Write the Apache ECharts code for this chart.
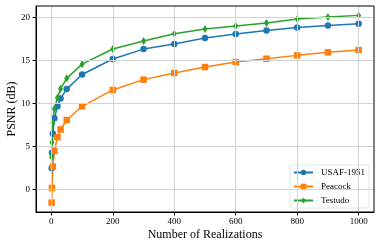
<!DOCTYPE html>
<html>
<head>
<meta charset="utf-8">
<script src="https://cdn.jsdelivr.net/npm/echarts@6/dist/echarts.min.js"></script>
<style>html,body{margin:0;padding:0;background:#fff}#c{width:381px;height:249px}</style>
</head>
<body>
<div id="c"></div>
<script>
const realizations = [1, 2, 5, 10, 20, 30, 50, 100, 200, 300, 400, 500, 600, 700, 800, 900, 1000];
const usaf = [2.5, 4.3, 6.5, 8.3, 9.7, 10.6, 11.7, 13.4, 15.2, 16.35, 16.95, 17.64, 18.1, 18.5, 18.87, 19.1, 19.3];
const peacock = [-1.5, 0.2, 2.7, 4.5, 6.1, 7.0, 8.1, 9.7, 11.6, 12.8, 13.57, 14.26, 14.84, 15.23, 15.62, 15.97, 16.24];
const testudo = [3.8, 5.5, 7.75, 9.4, 10.7, 11.75, 12.95, 14.6, 16.36, 17.28, 18.14, 18.69, 19.03, 19.38, 19.84, 20.07, 20.27];
const xTicks = [0, 200, 400, 600, 800, 1000];
const yTicks = [0, 5, 10, 15, 20];

const FONT = '"Liberation Serif", "DejaVu Serif", serif';
const pairs = arr => realizations.map((x, i) => [x, arr[i]]);

const chart = echarts.init(document.getElementById('c'), null, {renderer: 'canvas'});
const gridLineStyle = {color: '#d3d3d3', width: 1, type: 'solid'};
chart.setOption({
  animation: false,
  backgroundColor: '#fff',
  textStyle: {fontFamily: FONT},
  grid: {left: 36, right: 7, top: 6, bottom: 37, containLabel: false, outerBoundsMode: 'none'},
  xAxis: {
    type: 'value', min: -49.95, max: 1049.95,
    name: 'Number of Realizations', nameLocation: 'middle', nameGap: 17, nameMoveOverlap: false,
    nameTextStyle: {fontFamily: FONT, fontSize: 12, color: '#000'},
    axisLine: {show: true, onZero: false, lineStyle: {color: '#000', width: 1}},
    axisTick: {show: true, inside: false, length: 3.5, customValues: xTicks, lineStyle: {color: '#000'}},
    axisLabel: {customValues: xTicks, formatter: v => String(v), fontFamily: FONT, fontSize: 9, color: '#000', margin: 5},
    splitLine: {show: false}
  },
  yAxis: {
    type: 'value', min: -2.59, max: 21.36,
    name: 'PSNR (dB)', nameLocation: 'middle', nameGap: 18, nameMoveOverlap: false,
    nameTextStyle: {fontFamily: FONT, fontSize: 12, color: '#000'},
    axisLine: {show: true, onZero: false, lineStyle: {color: '#000', width: 1}},
    axisTick: {show: true, inside: false, length: 3.5, customValues: yTicks, lineStyle: {color: '#000'}},
    axisLabel: {customValues: yTicks, formatter: v => String(v), fontFamily: FONT, fontSize: 9, color: '#000', margin: 6},
    splitLine: {show: false}
  },
  legend: {
    orient: 'vertical', right: 12, bottom: 41,
    itemWidth: 19, itemHeight: 7, itemGap: 5,
    padding: [3, 4, 3, 3],
    backgroundColor: 'rgba(255,255,255,0.85)',
    borderColor: '#e6e6e6', borderWidth: 1, borderRadius: 2,
    textStyle: {fontFamily: FONT, fontSize: 9, color: '#000', padding: [0, 0, 0, 3]},
    data: ['USAF-1951', 'Peacock', 'Testudo']
  },
  series: [
    {
      type: 'line', name: '__grid', silent: true, data: [], z: 0,
      markLine: {
        silent: true, symbol: 'none', animation: false,
        label: {show: false},
        lineStyle: gridLineStyle,
        emphasis: {disabled: true},
        data: xTicks.map(v => ({xAxis: v})).concat(yTicks.map(v => ({yAxis: v})))
      }
    },
    {
      type: 'line', name: 'USAF-1951', data: pairs(usaf), z: 3,
      color: '#1f77b4', symbol: 'circle', symbolSize: 6.5, showAllSymbol: true,
      lineStyle: {width: 1.5, color: '#1f77b4'}, itemStyle: {color: '#1f77b4'}
    },
    {
      type: 'line', name: 'Peacock', data: pairs(peacock), z: 3,
      color: '#ff7f0e', symbol: 'rect', symbolSize: 6.5, showAllSymbol: true,
      lineStyle: {width: 1.5, color: '#ff7f0e'}, itemStyle: {color: '#ff7f0e'}
    },
    {
      type: 'line', name: 'Testudo', data: pairs(testudo), z: 3,
      color: '#2ca02c', symbol: 'diamond', symbolSize: [5, 8], showAllSymbol: true,
      lineStyle: {width: 1.5, color: '#2ca02c'}, itemStyle: {color: '#2ca02c'}
    }
  ]
});
// top and right spines
chart.setOption({
  graphic: [{
    type: 'rect', silent: true, z: 10,
    shape: {x: 36, y: 6, width: 381 - 36 - 7, height: 249 - 6 - 37},
    style: {fill: 'none', stroke: '#000', lineWidth: 1}
  }]
});
</script>
</body>
</html>
